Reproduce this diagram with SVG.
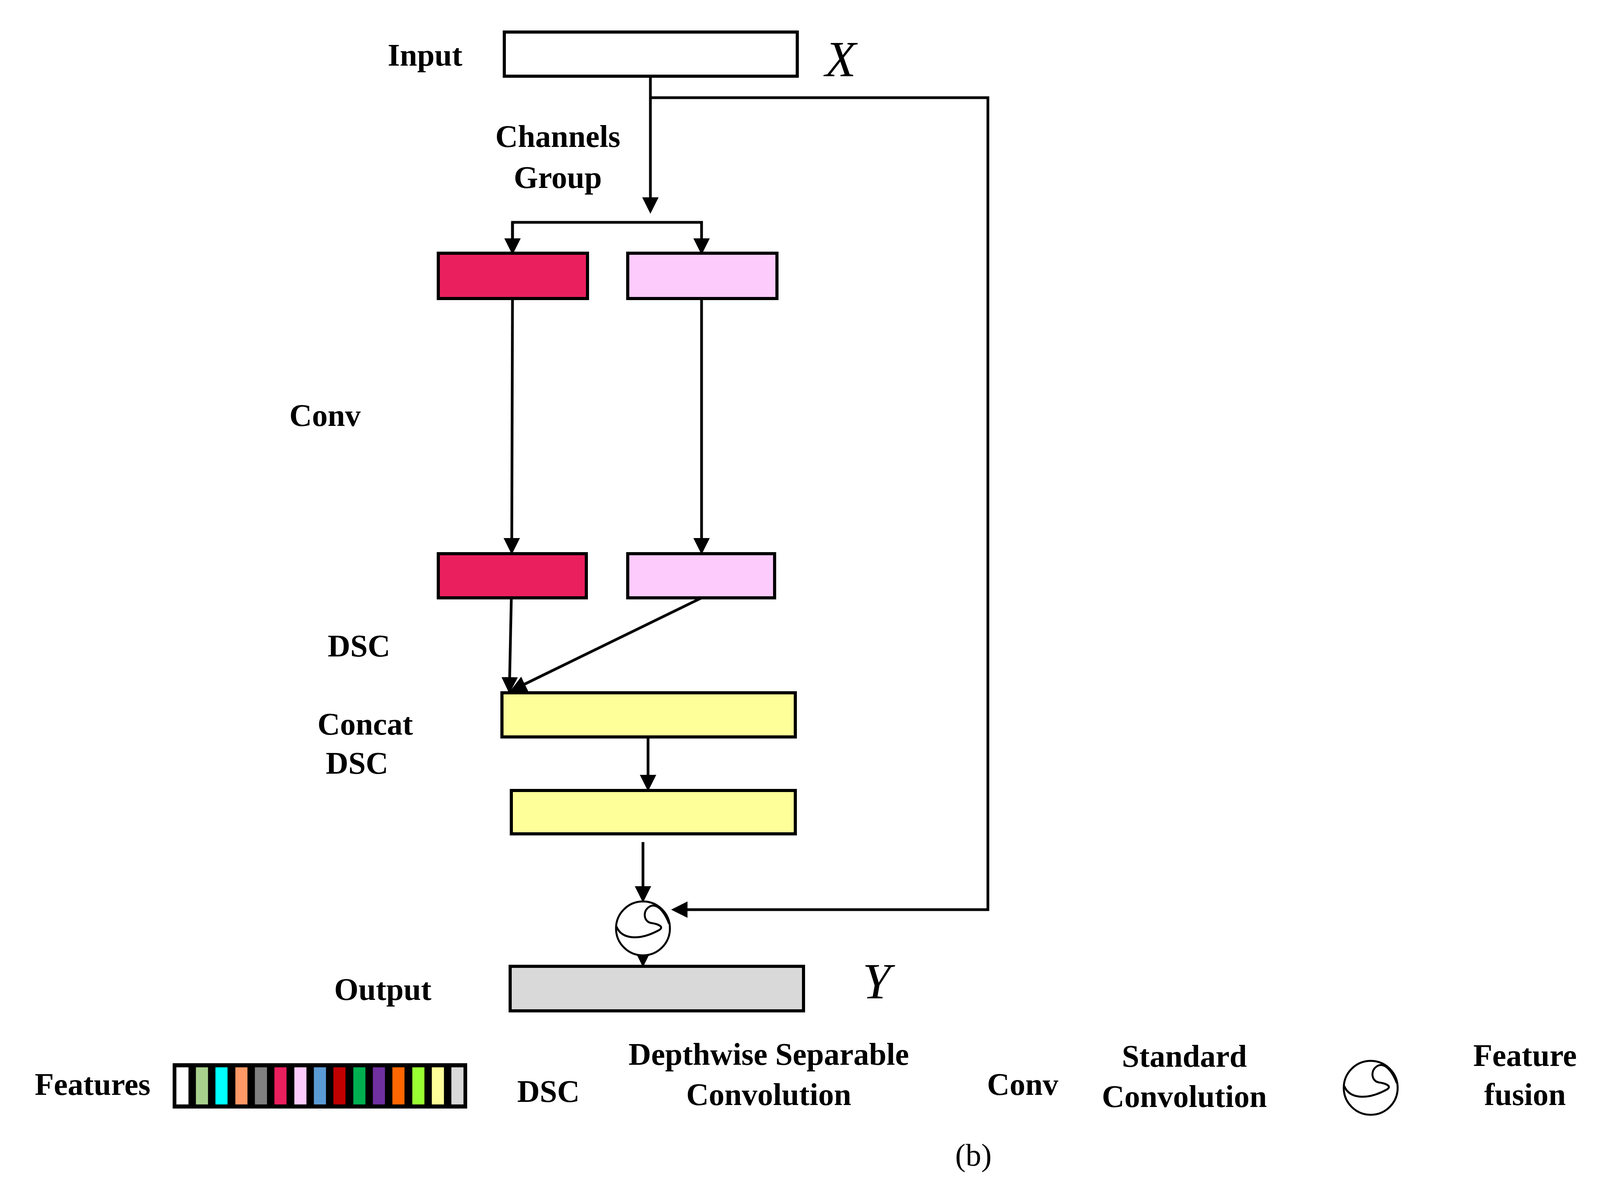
<svg xmlns="http://www.w3.org/2000/svg" width="4109" height="3025" viewBox="0 0 4109 3025">
<style>
text{font-family:"Liberation Serif","Times New Roman",serif;font-weight:bold;font-size:80px;fill:#000;text-anchor:middle}
.it{font-style:italic;font-weight:normal;font-size:130px}
.box{stroke:#000;stroke-width:8}
.ln{fill:none;stroke:#000;stroke-width:7}
.cell{stroke:#000;stroke-width:7}
</style>
<defs>
<marker id="ah" markerWidth="6" markerHeight="6" refX="5" refY="3" orient="auto" markerUnits="strokeWidth"><path d="M0,0 L6,3 L0,6 Z" fill="#000"/></marker>
<g id="fus">
<circle r="69" fill="#fff" stroke="#000" stroke-width="5"/>
<path d="M-68,-5 C-55,28 -10,32 40,5 C58,-5 35,-12 20,-14 C0,-18 -2,-50 22,-58 C42,-62 58,-35 67,-12" fill="none" stroke="#000" stroke-width="5"/>
</g>
</defs>
<g id="connectors">
<path class="ln" d="M1665,195 L1665,540" marker-end="url(#ah)"/>
<path class="ln" d="M1665,250 L2529,250 L2529,2328 L1725,2328" marker-end="url(#ah)"/>
<path class="ln" d="M1312,650 L1312,569 L1796,569 L1796,645" marker-end="url(#ah)"/>
<path class="ln" d="M1312,569 L1312,645" marker-end="url(#ah)"/>
<path class="ln" d="M1312,764 L1310,1412" marker-end="url(#ah)"/>
<path class="ln" d="M1796,764 L1796,1412" marker-end="url(#ah)"/>
<path class="ln" d="M1309,1530 L1304,1768" marker-end="url(#ah)"/>
<path class="ln" d="M1796,1530 L1312,1766" marker-end="url(#ah)"/>
<path class="ln" d="M1659,1773 L1659,2018" marker-end="url(#ah)"/>
<path class="ln" d="M1646,2155 L1646,2303" marker-end="url(#ah)"/>
<path class="ln" d="M1646,2445 L1646,2468" marker-end="url(#ah)"/>
</g>
<g id="input"><rect class="box" x="1291" y="82" width="750" height="113" fill="#fff"/><text x="1088" y="168">Input</text><text class="it" x="2152" y="195">X</text></g>
<g id="channels-group"><text x="1428" y="376">Channels</text><text x="1428" y="481">Group</text></g>
<g id="red1"><rect class="box" x="1122" y="648" width="382" height="116" fill="#ea1f5e"/></g>
<g id="pink1"><rect class="box" x="1607" y="648" width="382" height="116" fill="#fdcbfc"/></g>
<g id="conv-label"><text x="832" y="1090">Conv</text></g>
<g id="red2"><rect class="box" x="1122" y="1417" width="379" height="113" fill="#ea1f5e"/></g>
<g id="pink2"><rect class="box" x="1607" y="1417" width="376" height="113" fill="#fdcbfc"/></g>
<g id="dsc-label"><text x="919" y="1680">DSC</text></g>
<g id="concat"><rect class="box" x="1285" y="1773" width="751" height="113" fill="#ffff99"/><text x="935" y="1880">Concat</text><text x="914" y="1980">DSC</text></g>
<g id="dsc-out"><rect class="box" x="1309" y="2023" width="727" height="111" fill="#ffff99"/></g>
<g id="fusion"><use href="#fus" x="1646" y="2376"/></g>
<g id="output"><rect class="box" x="1306" y="2473" width="751" height="114" fill="#d9d9d9"/><text x="980" y="2559">Output</text><text class="it" x="2244" y="2555">Y</text></g>
<g id="legend">
<text x="237" y="2802">Features</text>
<rect x="442" y="2721" width="754" height="116" fill="#000"/>
<g class="cell">
<rect x="448" y="2728" width="38" height="102" fill="#ffffff"/>
<rect x="498" y="2728" width="38" height="102" fill="#a9d18e"/>
<rect x="548" y="2728" width="38" height="102" fill="#00ffff"/>
<rect x="599" y="2728" width="38" height="102" fill="#ff9966"/>
<rect x="649" y="2728" width="38" height="102" fill="#808080"/>
<rect x="699" y="2728" width="38" height="102" fill="#ea1f5e"/>
<rect x="750" y="2728" width="38" height="102" fill="#fdcbfc"/>
<rect x="800" y="2728" width="38" height="102" fill="#5b9bd5"/>
<rect x="850" y="2728" width="38" height="102" fill="#c00000"/>
<rect x="901" y="2728" width="38" height="102" fill="#00b050"/>
<rect x="951" y="2728" width="38" height="102" fill="#7030a0"/>
<rect x="1001" y="2728" width="38" height="102" fill="#ff6600"/>
<rect x="1052" y="2728" width="38" height="102" fill="#99ff33"/>
<rect x="1102" y="2728" width="38" height="102" fill="#ffff99"/>
<rect x="1152" y="2728" width="38" height="102" fill="#d9d9d9"/>
</g>
<text x="1404" y="2820">DSC</text>
<text x="1968" y="2725">Depthwise Separable</text>
<text x="1968" y="2828">Convolution</text>
<text x="2618" y="2802">Conv</text>
<text x="3032" y="2730">Standard</text>
<text x="3032" y="2833">Convolution</text>
<use href="#fus" x="3509" y="2784"/>
<text x="3904" y="2728">Feature</text>
<text x="3904" y="2828">fusion</text>
<text x="2492" y="2983" style="font-weight:normal">(b)</text>
</g>
</svg>
